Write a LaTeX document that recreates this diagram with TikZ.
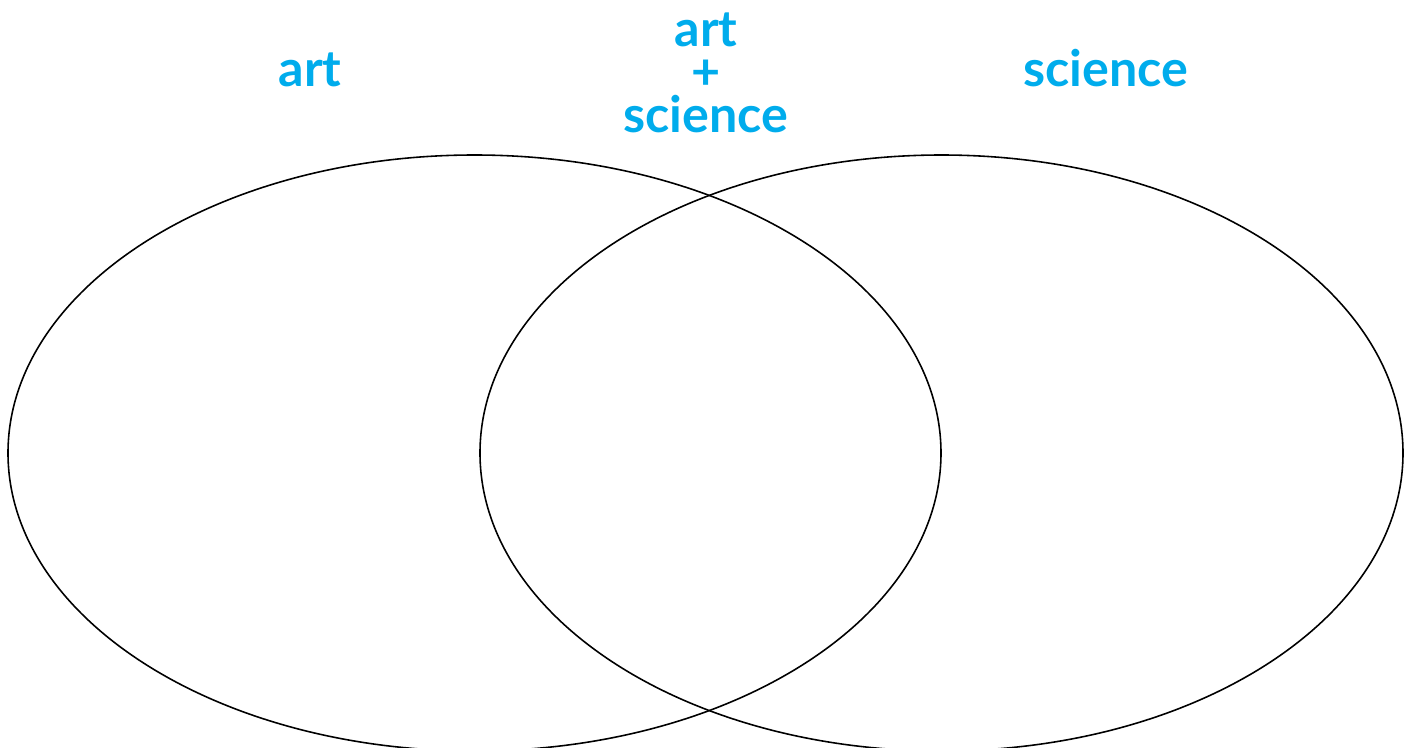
\documentclass[tikz,border=0pt]{standalone}
\usepackage{fontspec}
\setsansfont{Lato}
\definecolor{vennblue}{RGB}{0,172,236}
\tikzset{
  setlabel/.style={font=\sffamily\bfseries\fontsize{14.3}{12.2}\selectfont, text=vennblue, inner sep=0pt, align=center},
  setring/.style={draw=black, line width=0.45pt}
}
\begin{document}
\begin{tikzpicture}
    \useasboundingbox (0,0) rectangle (14.08,7.47);
    \clip (0,0) rectangle (14.08,7.47);

    % --- the two sets ---
    \draw[setring] (4.745,2.94) ellipse (4.665 and 2.98);
    \draw[setring] (9.415,2.94) ellipse (4.615 and 2.98);

    % --- labels ---
    \node[setlabel, anchor=base] (artlabel) at (3.10,6.60) {art};
    \node[setlabel, anchor=base] (sciencelabel) at (11.06,6.60) {science};
    \node[setlabel] (bothlabel) at (7.06,6.74) {art\\+\\science};
\end{tikzpicture}
\end{document}
